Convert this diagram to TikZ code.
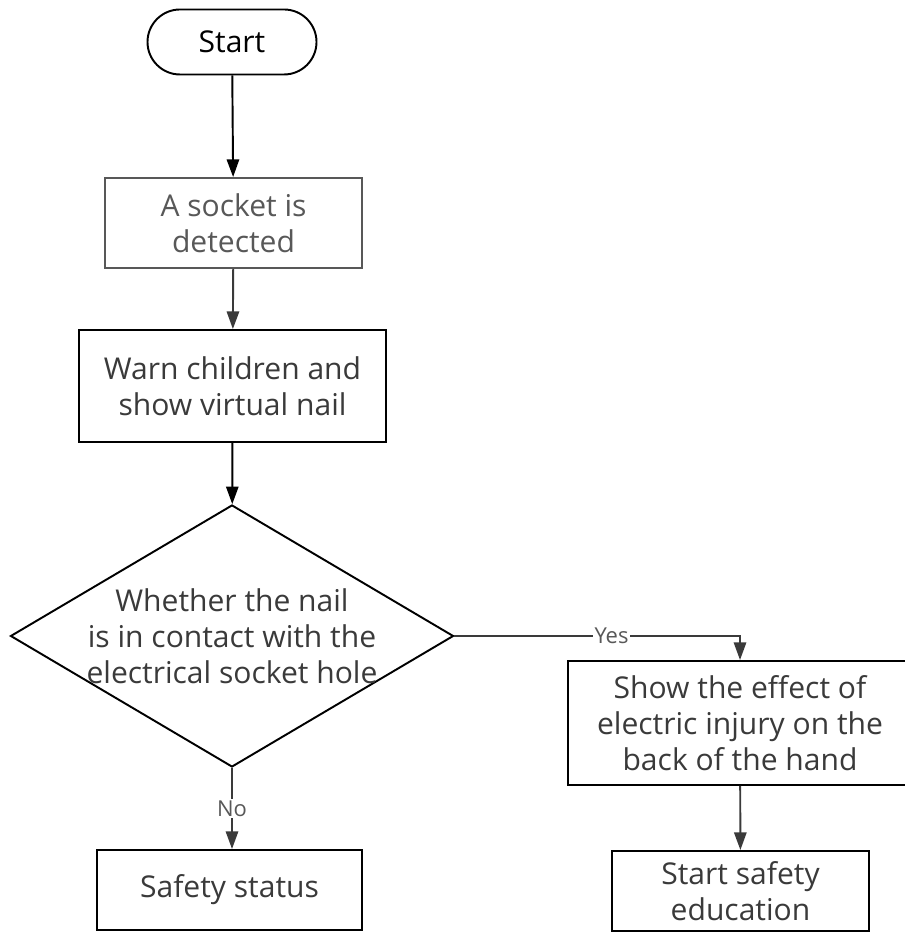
\documentclass[tikz,border=0pt]{standalone}
\usepackage{fontspec}
\setmainfont{Open Sans}
\usetikzlibrary{arrows.meta,shapes.geometric}

\definecolor{inkgray}{HTML}{3A3A3A}
\definecolor{softgray}{HTML}{585858}

\begin{document}
\begin{tikzpicture}[
		box/.style={rectangle, draw=black, line width=1.1pt, text=inkgray, align=center, font=\fontsize{17.1}{20.5}\selectfont, inner sep=2pt},
		terminal/.style={box, rounded corners=0.65cm, minimum width=3.38cm, minimum height=1.3cm, text=black},
		decision/.style={diamond, draw=black, line width=1.1pt, minimum width=8.86cm, minimum height=5.24cm, inner sep=0pt},
		arrow/.style={draw=inkgray, line width=1.1pt, -{Triangle[width=7pt,length=10pt]}},
		answer/.style={fill=white, text=softgray, font=\fontsize{12.5}{14}\selectfont, inner sep=1pt}]
			\useasboundingbox (0,0) rectangle (18.08,18.66);
			
			% Colonna sinistra
			\node[terminal] (start) at (4.64, 17.82) {Start};
			\node[box, draw=softgray, text=softgray, minimum width=5.14cm, minimum height=1.8cm] (detected) at (4.67, 14.2) {A socket is\\detected};
			\node[box, minimum width=6.14cm, minimum height=2.24cm] (warn) at (4.65, 10.94) {Warn children and\\show virtual nail};
			\node[decision] (check) at (4.64, 5.94) {};
			\node[box, draw=none, inner sep=0pt] (question) at (check.center) {Whether the nail\\is in contact with the\\electrical socket hole};
			\node[box, minimum width=5.3cm, minimum height=1.6cm] (safe) at (4.59, 0.86) {Safety status};
			
			% Colonna destra
			\node[box, minimum width=6.88cm, minimum height=2.48cm] (effect) at (14.8, 4.2) {Show the effect of\\electric injury on the\\back of the hand};
			\node[box, minimum width=5.14cm, minimum height=1.6cm] (education) at (14.81, 0.84) {Start safety\\education};
			
			\draw[arrow, draw=black] (start) -- (detected);
			\draw[arrow] (detected) -- (warn);
			\draw[arrow, draw=black] (warn) -- (check);
			\draw[arrow] (check.south) -- node[answer] (no) {No} (check.south |- safe.north);
			\draw[arrow] (check.east) -| node[answer, pos=0.275] (yes) {Yes} (effect.north);
			\draw[arrow] (effect) -- (education);
		\end{tikzpicture}
\end{document}
